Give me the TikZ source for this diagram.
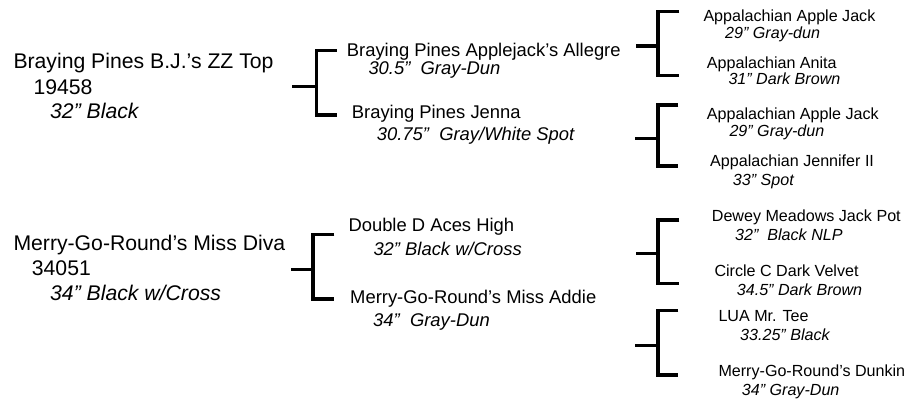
\documentclass[tikz,border=0pt]{standalone}
\usepackage{fontspec}
\setmainfont{Liberation Sans}

\begin{document}
\begin{tikzpicture}[x=1pt, y=-1pt, every node/.style={anchor=base west, inner sep=0pt},
        namea/.style={font=\fontsize{21.2}{25}\selectfont},
        desca/.style={font=\fontsize{21.2}{25}\selectfont\itshape},
        nameb/.style={font=\fontsize{18.4}{22}\selectfont},
        descb/.style={font=\fontsize{18.4}{22}\selectfont\itshape},
        namec/.style={font=\fontsize{16.1}{19}\selectfont},
        descc/.style={font=\fontsize{16.1}{19}\selectfont\itshape},
        bracket/.style={line width=3.4pt}]
                \useasboundingbox (0, 0) rectangle (907, 401);

                \node[namea] (zz) at (13.3, 68.3) {Braying Pines B.J.’s ZZ Top};
                \node[namea] (zz-reg) at (33.3, 95) {19458};
                \node[desca] (zz-desc) at (50, 118) {32” Black};
                \node[namea] (diva) at (13.3, 250) {Merry-Go-Round’s Miss Diva};
                \node[namea] (diva-reg) at (31.7, 275.7) {34051};
                \node[desca] (diva-desc) at (50, 300) {34” Black w/Cross};

                \node[nameb] (allegre) at (346.7, 57) {Braying Pines Applejack’s Allegre};
                \node[descb] (allegre-desc) at (368.3, 74.8) {30.5”\ \ Gray-Dun};
                \node[nameb] (jenna) at (351.7, 118.3) {Braying Pines Jenna};
                \node[descb] (jenna-desc) at (376.7, 140) {30.75”\ \ Gray/White Spot};
                \node[nameb] (aces) at (348.3, 231.7) {Double D Aces High};
                \node[descb] (aces-desc) at (373.3, 255) {32” Black w/Cross};
                \node[nameb] (addie) at (350, 303.3) {Merry-Go-Round’s Miss Addie};
                \node[descb] (addie-desc) at (373, 326) {34”\ \ Gray-Dun};

                \node[namec] (jack1) at (703.3, 21.7) {Appalachian Apple Jack};
                \node[descc] (jack1-desc) at (725, 38.3) {29” Gray-dun};
                \node[namec] (anita) at (706.7, 68.3) {Appalachian Anita};
                \node[descc] (anita-desc) at (728.3, 85) {31” Dark Brown};
                \node[namec] (jack2) at (706.7, 120) {Appalachian Apple Jack};
                \node[descc] (jack2-desc) at (729.3, 136.7) {29” Gray-dun};
                \node[namec] (jennifer) at (710, 166.7) {Appalachian Jennifer II};
                \node[descc] (jennifer-desc) at (732.7, 185) {33” Spot};
                \node[namec] (jackpot) at (711.7, 221.7) {Dewey Meadows Jack Pot};
                \node[descc] (jackpot-desc) at (735, 240) {32”\ \ Black NLP};
                \node[namec] (velvet) at (714.3, 276.7) {Circle C Dark Velvet};
                \node[descc] (velvet-desc) at (736.7, 295) {34.5” Dark Brown};
                \node[namec] (tee) at (718.3, 321.7) {LUA Mr. Tee};
                \node[descc] (tee-desc) at (740, 340) {33.25” Black};
                \node[namec] (dunkin) at (718.3, 376.7) {Merry-Go-Round’s Dunkin};
                \node[descc] (dunkin-desc) at (741.7, 395) {34” Gray-Dun};

                \coordinate (zz-out) at (292.3, 86.7);
                \coordinate (zz-fork) at (316.7, 86.7);
                \coordinate (allegre-in) at (336.7, 50.7);
                \coordinate (jenna-in) at (336.7, 115);
                \coordinate (diva-out) at (291, 269.7);
                \coordinate (diva-fork) at (313, 269.7);
                \coordinate (aces-in) at (334.3, 234.7);
                \coordinate (addie-in) at (334.3, 298.8);
                \coordinate (allegre-out) at (636, 46);
                \coordinate (allegre-fork) at (658, 46);
                \coordinate (jack1-in) at (679.3, 11.7);
                \coordinate (anita-in) at (679.3, 75.8);
                \coordinate (jenna-out) at (635, 138.3);
                \coordinate (jenna-fork) at (658, 138.3);
                \coordinate (jack2-in) at (678.3, 105);
                \coordinate (jennifer-in) at (678.3, 166);
                \coordinate (aces-out) at (636, 253.3);
                \coordinate (aces-fork) at (658, 253.3);
                \coordinate (jackpot-in) at (679.3, 220);
                \coordinate (velvet-in) at (679.3, 283.3);
                \coordinate (addie-out) at (635, 345.3);
                \coordinate (addie-fork) at (658, 345.3);
                \coordinate (tee-in) at (678.3, 310.7);
                \coordinate (dunkin-in) at (678.3, 375);

                \draw[bracket] (zz-out) -- (zz-fork);
                \draw[bracket] (allegre-in) -| (zz-fork) |- (jenna-in);
                \draw[bracket] (diva-out) -- (diva-fork);
                \draw[bracket] (aces-in) -| (diva-fork) |- (addie-in);
                \draw[bracket] (allegre-out) -- (allegre-fork);
                \draw[bracket] (jack1-in) -| (allegre-fork) |- (anita-in);
                \draw[bracket] (jenna-out) -- (jenna-fork);
                \draw[bracket] (jack2-in) -| (jenna-fork) |- (jennifer-in);
                \draw[bracket] (aces-out) -- (aces-fork);
                \draw[bracket] (jackpot-in) -| (aces-fork) |- (velvet-in);
                \draw[bracket] (addie-out) -- (addie-fork);
                \draw[bracket] (tee-in) -| (addie-fork) |- (dunkin-in);
            \end{tikzpicture}
\end{document}
